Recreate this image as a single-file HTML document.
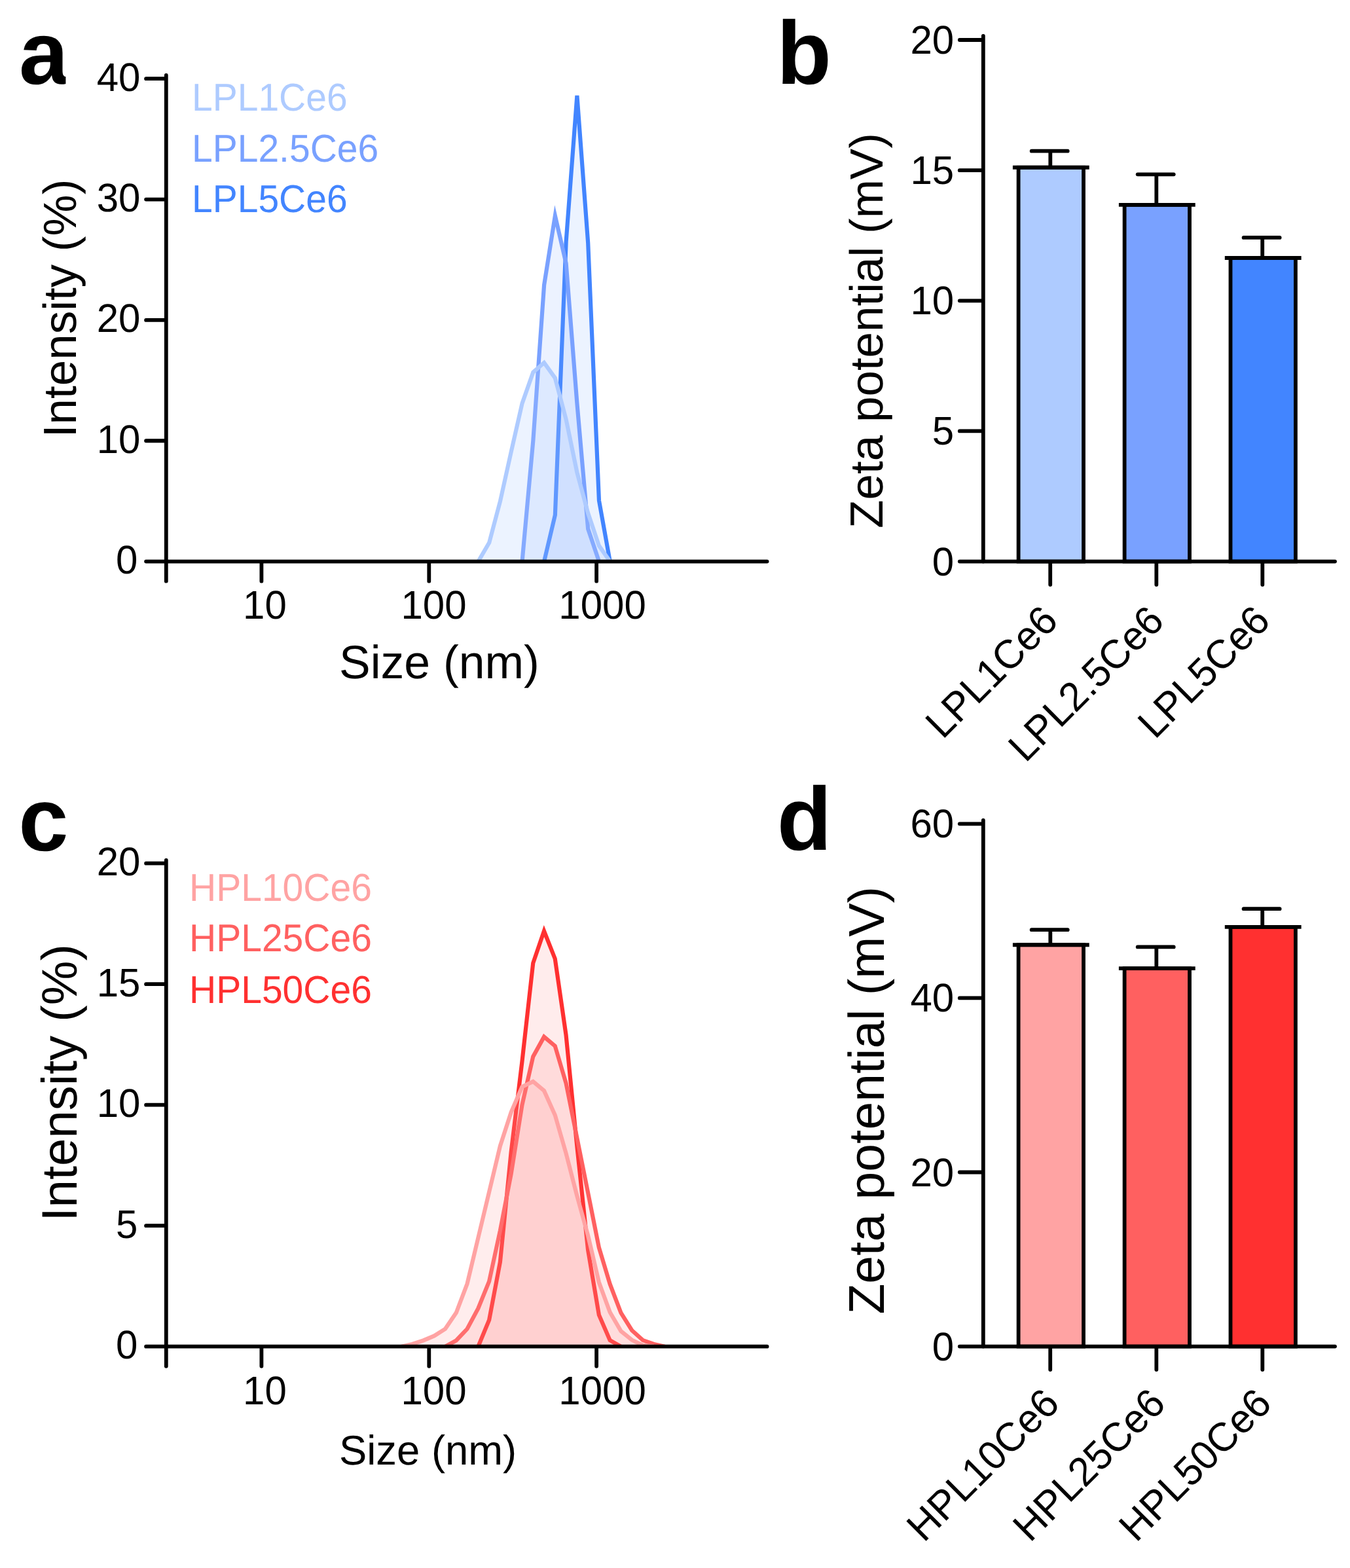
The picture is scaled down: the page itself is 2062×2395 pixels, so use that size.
<!DOCTYPE html>
<html lang="en">
<head>
<meta charset="utf-8">
<title>Size distribution and zeta potential of LPL-Ce6 and HPL-Ce6 nanoparticles</title>
<style>
html, body { margin: 0; padding: 0; background: #ffffff; }
body { width: 2062px; height: 2395px; overflow: hidden; }
svg { display: block; }
text { font-family: "Liberation Sans", sans-serif; font-kerning: none; text-rendering: geometricPrecision; }
</style>
</head>
<body>
<svg width="2062" height="2395" viewBox="0 0 2062 2395" font-family='"Liberation Sans", sans-serif' role="img" aria-label="Size distributions and zeta potentials of LPL-Ce6 and HPL-Ce6 formulations">
<rect x="0" y="0" width="2062" height="2395" fill="#ffffff"/>
<g id="panel-a">
<clipPath id="clip-a"><rect x="200" y="-42.40" width="1100" height="901.50"/></clipPath>
<g clip-path="url(#clip-a)">
<polygon points="831.09,857.60 847.86,786.63 864.63,369.07 881.40,146.01 898.17,370.92 914.94,764.50 931.71,857.60" fill="#4285FF" fill-opacity="0.1" stroke="none"/>
<polyline points="831.09,857.60 847.86,786.63 864.63,369.07 881.40,146.01 898.17,370.92 914.94,764.50 931.71,857.60" fill="none" stroke="#4285FF" stroke-width="6.2" stroke-linejoin="miter" stroke-miterlimit="10" stroke-linecap="butt"/>
<polygon points="797.55,857.60 814.32,673.25 831.09,435.44 847.86,329.44 864.63,402.26 881.40,616.10 898.17,807.83 914.94,857.60" fill="#79A1FF" fill-opacity="0.14" stroke="none"/>
<polyline points="797.55,857.60 814.32,673.25 831.09,435.44 847.86,329.44 864.63,402.26 881.40,616.10 898.17,807.83 914.94,857.60" fill="none" stroke="#79A1FF" stroke-width="6.2" stroke-linejoin="miter" stroke-miterlimit="10" stroke-linecap="butt"/>
<polygon points="730.47,857.60 747.24,828.84 764.01,765.43 780.78,689.84 797.55,616.10 814.32,568.54 831.09,553.98 847.86,577.39 864.63,640.62 881.40,721.73 898.17,783.86 914.94,833.63 931.71,857.60" fill="#AECBFF" fill-opacity="0.23" stroke="none"/>
<polyline points="730.47,857.60 747.24,828.84 764.01,765.43 780.78,689.84 797.55,616.10 814.32,568.54 831.09,553.98 847.86,577.39 864.63,640.62 881.40,721.73 898.17,783.86 914.94,833.63 931.71,857.60" fill="none" stroke="#AECBFF" stroke-width="6.2" stroke-linejoin="miter" stroke-miterlimit="10" stroke-linecap="butt"/>
</g>
<line x1="253.80" y1="115.00" x2="253.80" y2="887.70" stroke="#000" stroke-width="5.8" stroke-linecap="round"/>
<line x1="223.10" y1="857.60" x2="1171.60" y2="857.60" stroke="#000" stroke-width="5.8" stroke-linecap="round"/>
<text transform="translate(210.40 876.00) scale(1.0 1.02)" font-size="60" text-anchor="end" fill="#000">0</text>
<line x1="223.10" y1="673.25" x2="251.80" y2="673.25" stroke="#000" stroke-width="5.8" stroke-linecap="round"/>
<text transform="translate(214.40 691.65) scale(1.0 1.02)" font-size="60" text-anchor="end" fill="#000">10</text>
<line x1="223.10" y1="488.90" x2="251.80" y2="488.90" stroke="#000" stroke-width="5.8" stroke-linecap="round"/>
<text transform="translate(214.40 507.30) scale(1.0 1.02)" font-size="60" text-anchor="end" fill="#000">20</text>
<line x1="223.10" y1="304.55" x2="251.80" y2="304.55" stroke="#000" stroke-width="5.8" stroke-linecap="round"/>
<text transform="translate(214.40 322.95) scale(1.0 1.02)" font-size="60" text-anchor="end" fill="#000">30</text>
<line x1="223.10" y1="120.20" x2="251.80" y2="120.20" stroke="#000" stroke-width="5.8" stroke-linecap="round"/>
<text transform="translate(214.40 138.60) scale(1.0 1.02)" font-size="60" text-anchor="end" fill="#000">40</text>
<line x1="399.40" y1="859.60" x2="399.40" y2="887.70" stroke="#000" stroke-width="5.8" stroke-linecap="round"/>
<text transform="translate(404.40 945.40) scale(1.0 1.02)" font-size="60" text-anchor="middle" fill="#000">10</text>
<line x1="655.30" y1="859.60" x2="655.30" y2="887.70" stroke="#000" stroke-width="5.8" stroke-linecap="round"/>
<text transform="translate(662.50 945.40) scale(1.0 1.02)" font-size="60" text-anchor="middle" fill="#000">100</text>
<line x1="911.10" y1="859.60" x2="911.10" y2="887.70" stroke="#000" stroke-width="5.8" stroke-linecap="round"/>
<text transform="translate(920.10 945.40) scale(1.0 1.02)" font-size="60" text-anchor="middle" fill="#000">1000</text>
<text transform="translate(115.50 471.00) rotate(-90)" font-size="71" text-anchor="middle" fill="#000">Intensity (%)</text>
<text transform="translate(518.00 1036.00)" font-size="71.5" text-anchor="start" fill="#000">Size (nm)</text>
<text transform="translate(293.00 169.00) scale(1.0 1.04)" font-size="57" text-anchor="start" fill="#AECBFF">LPL1Ce6</text>
<text transform="translate(293.00 246.60) scale(1.0 1.04)" font-size="57" text-anchor="start" fill="#79A1FF">LPL2.5Ce6</text>
<text transform="translate(293.00 323.70) scale(1.0 1.04)" font-size="57" text-anchor="start" fill="#4285FF">LPL5Ce6</text>
<clipPath id="clip-letter-a"><rect x="0" y="0" width="100.4" height="200"/></clipPath>
<g clip-path="url(#clip-letter-a)">
<text transform="translate(29.00 128.00)" font-size="136" text-anchor="start" fill="#000" font-weight="bold">a</text>
</g>
</g>
<g id="panel-b">
<rect x="1555.60" y="255.77" width="99.40" height="601.83" fill="#AECBFF" stroke="#000" stroke-width="5.8"/>
<line x1="1604.30" y1="230.68" x2="1604.30" y2="255.77" stroke="#000" stroke-width="5.8" stroke-linecap="butt"/>
<line x1="1575.70" y1="230.68" x2="1630.70" y2="230.68" stroke="#000" stroke-width="5.8" stroke-linecap="round"/>
<line x1="1546.90" y1="255.77" x2="1663.70" y2="255.77" stroke="#000" stroke-width="5.8" stroke-linecap="butt"/>
<rect x="1717.60" y="312.92" width="99.40" height="544.68" fill="#79A1FF" stroke="#000" stroke-width="5.8"/>
<line x1="1766.30" y1="266.32" x2="1766.30" y2="312.92" stroke="#000" stroke-width="5.8" stroke-linecap="butt"/>
<line x1="1737.70" y1="266.32" x2="1792.70" y2="266.32" stroke="#000" stroke-width="5.8" stroke-linecap="round"/>
<line x1="1708.90" y1="312.92" x2="1825.70" y2="312.92" stroke="#000" stroke-width="5.8" stroke-linecap="butt"/>
<rect x="1879.50" y="393.98" width="99.40" height="463.62" fill="#4285FF" stroke="#000" stroke-width="5.8"/>
<line x1="1928.20" y1="362.91" x2="1928.20" y2="393.98" stroke="#000" stroke-width="5.8" stroke-linecap="butt"/>
<line x1="1899.60" y1="362.91" x2="1954.60" y2="362.91" stroke="#000" stroke-width="5.8" stroke-linecap="round"/>
<line x1="1870.80" y1="393.98" x2="1987.60" y2="393.98" stroke="#000" stroke-width="5.8" stroke-linecap="butt"/>
<line x1="1501.80" y1="54.80" x2="1501.80" y2="857.60" stroke="#000" stroke-width="5.8" stroke-linecap="round"/>
<line x1="1465.80" y1="857.60" x2="2039.00" y2="857.60" stroke="#000" stroke-width="5.8" stroke-linecap="round"/>
<text transform="translate(1457.20 878.60) scale(1.0 1.02)" font-size="60" text-anchor="end" fill="#000">0</text>
<line x1="1465.80" y1="658.45" x2="1499.80" y2="658.45" stroke="#000" stroke-width="5.8" stroke-linecap="round"/>
<text transform="translate(1457.20 679.45) scale(1.0 1.02)" font-size="60" text-anchor="end" fill="#000">5</text>
<line x1="1465.80" y1="459.30" x2="1499.80" y2="459.30" stroke="#000" stroke-width="5.8" stroke-linecap="round"/>
<text transform="translate(1457.20 480.30) scale(1.0 1.02)" font-size="60" text-anchor="end" fill="#000">10</text>
<line x1="1465.80" y1="260.15" x2="1499.80" y2="260.15" stroke="#000" stroke-width="5.8" stroke-linecap="round"/>
<text transform="translate(1457.20 281.15) scale(1.0 1.02)" font-size="60" text-anchor="end" fill="#000">15</text>
<line x1="1465.80" y1="61.00" x2="1499.80" y2="61.00" stroke="#000" stroke-width="5.8" stroke-linecap="round"/>
<text transform="translate(1457.20 82.00) scale(1.0 1.02)" font-size="60" text-anchor="end" fill="#000">20</text>
<line x1="1604.20" y1="859.60" x2="1604.20" y2="893.10" stroke="#000" stroke-width="5.8" stroke-linecap="round"/>
<text transform="translate(1618.80 951.50) rotate(-45) scale(1.0 1.02)" font-size="60.7" text-anchor="end" fill="#000">LPL1Ce6</text>
<line x1="1766.30" y1="859.60" x2="1766.30" y2="893.10" stroke="#000" stroke-width="5.8" stroke-linecap="round"/>
<text transform="translate(1780.90 951.50) rotate(-45) scale(1.0 1.02)" font-size="60.7" text-anchor="end" fill="#000">LPL2.5Ce6</text>
<line x1="1928.30" y1="859.60" x2="1928.30" y2="893.10" stroke="#000" stroke-width="5.8" stroke-linecap="round"/>
<text transform="translate(1942.90 951.50) rotate(-45) scale(1.0 1.02)" font-size="60.7" text-anchor="end" fill="#000">LPL5Ce6</text>
<text transform="translate(1348.20 505.00) rotate(-90)" font-size="71" text-anchor="middle" fill="#000">Zeta potential (mV)</text>
<text transform="translate(1186.30 128.00)" font-size="137" text-anchor="start" fill="#000" font-weight="bold">b</text>
</g>
<g id="panel-c">
<clipPath id="clip-c"><rect x="200" y="1156.70" width="1100" height="901.50"/></clipPath>
<g clip-path="url(#clip-c)">
<polygon points="730.37,2056.70 747.14,2016.11 763.91,1927.55 780.68,1759.65 797.45,1621.28 814.22,1471.10 830.99,1422.02 847.76,1464.45 864.53,1580.69 881.30,1750.43 898.07,1909.10 914.84,2008.36 931.61,2047.11 948.38,2056.70" fill="#FF3030" fill-opacity="0.09" stroke="none"/>
<polyline points="730.37,2056.70 747.14,2016.11 763.91,1927.55 780.68,1759.65 797.45,1621.28 814.22,1471.10 830.99,1422.02 847.76,1464.45 864.53,1580.69 881.30,1750.43 898.07,1909.10 914.84,2008.36 931.61,2047.11 948.38,2056.70" fill="none" stroke="#FF3030" stroke-width="6.2" stroke-linejoin="miter" stroke-miterlimit="10" stroke-linecap="butt"/>
<polygon points="680.06,2056.70 696.83,2047.47 713.60,2029.76 730.37,1998.40 747.14,1957.07 763.91,1879.58 780.68,1792.86 797.45,1687.70 814.22,1613.90 830.99,1583.64 847.76,1597.66 864.53,1654.49 881.30,1737.88 898.07,1821.65 914.84,1905.41 931.61,1961.13 948.38,2005.04 965.15,2031.98 981.92,2047.11 998.69,2053.01 1015.46,2056.70" fill="#FF6060" fill-opacity="0.117" stroke="none"/>
<polyline points="680.06,2056.70 696.83,2047.47 713.60,2029.76 730.37,1998.40 747.14,1957.07 763.91,1879.58 780.68,1792.86 797.45,1687.70 814.22,1613.90 830.99,1583.64 847.76,1597.66 864.53,1654.49 881.30,1737.88 898.07,1821.65 914.84,1905.41 931.61,1961.13 948.38,2005.04 965.15,2031.98 981.92,2047.11 998.69,2053.01 1015.46,2056.70" fill="none" stroke="#FF6060" stroke-width="6.2" stroke-linejoin="miter" stroke-miterlimit="10" stroke-linecap="butt"/>
<polygon points="612.98,2056.70 629.75,2053.01 646.52,2047.47 663.29,2040.46 680.06,2029.76 696.83,2005.04 713.60,1960.76 730.37,1890.65 747.14,1820.54 763.91,1750.43 780.68,1698.77 797.45,1660.02 814.22,1651.91 830.99,1665.93 847.76,1703.20 864.53,1761.50 881.30,1826.44 898.07,1886.96 914.84,1958.55 931.61,2004.30 948.38,2033.08 965.15,2046.74 981.92,2054.86 998.69,2056.70" fill="#FFA3A3" fill-opacity="0.2" stroke="none"/>
<polyline points="612.98,2056.70 629.75,2053.01 646.52,2047.47 663.29,2040.46 680.06,2029.76 696.83,2005.04 713.60,1960.76 730.37,1890.65 747.14,1820.54 763.91,1750.43 780.68,1698.77 797.45,1660.02 814.22,1651.91 830.99,1665.93 847.76,1703.20 864.53,1761.50 881.30,1826.44 898.07,1886.96 914.84,1958.55 931.61,2004.30 948.38,2033.08 965.15,2046.74 981.92,2054.86 998.69,2056.70" fill="none" stroke="#FFA3A3" stroke-width="6.2" stroke-linejoin="miter" stroke-miterlimit="10" stroke-linecap="butt"/>
</g>
<line x1="253.80" y1="1314.00" x2="253.80" y2="2086.80" stroke="#000" stroke-width="5.8" stroke-linecap="round"/>
<line x1="223.10" y1="2056.70" x2="1171.60" y2="2056.70" stroke="#000" stroke-width="5.8" stroke-linecap="round"/>
<text transform="translate(210.40 2075.10) scale(1.0 1.02)" font-size="60" text-anchor="end" fill="#000">0</text>
<line x1="223.10" y1="1872.20" x2="251.80" y2="1872.20" stroke="#000" stroke-width="5.8" stroke-linecap="round"/>
<text transform="translate(210.40 1890.60) scale(1.0 1.02)" font-size="60" text-anchor="end" fill="#000">5</text>
<line x1="223.10" y1="1687.70" x2="251.80" y2="1687.70" stroke="#000" stroke-width="5.8" stroke-linecap="round"/>
<text transform="translate(214.40 1706.10) scale(1.0 1.02)" font-size="60" text-anchor="end" fill="#000">10</text>
<line x1="223.10" y1="1503.20" x2="251.80" y2="1503.20" stroke="#000" stroke-width="5.8" stroke-linecap="round"/>
<text transform="translate(214.40 1521.60) scale(1.0 1.02)" font-size="60" text-anchor="end" fill="#000">15</text>
<line x1="223.10" y1="1318.70" x2="251.80" y2="1318.70" stroke="#000" stroke-width="5.8" stroke-linecap="round"/>
<text transform="translate(214.40 1337.10) scale(1.0 1.02)" font-size="60" text-anchor="end" fill="#000">20</text>
<line x1="399.40" y1="2058.70" x2="399.40" y2="2086.80" stroke="#000" stroke-width="5.8" stroke-linecap="round"/>
<text transform="translate(404.40 2144.50) scale(1.0 1.02)" font-size="60" text-anchor="middle" fill="#000">10</text>
<line x1="655.30" y1="2058.70" x2="655.30" y2="2086.80" stroke="#000" stroke-width="5.8" stroke-linecap="round"/>
<text transform="translate(662.50 2144.50) scale(1.0 1.02)" font-size="60" text-anchor="middle" fill="#000">100</text>
<line x1="911.10" y1="2058.70" x2="911.10" y2="2086.80" stroke="#000" stroke-width="5.8" stroke-linecap="round"/>
<text transform="translate(920.10 2144.50) scale(1.0 1.02)" font-size="60" text-anchor="middle" fill="#000">1000</text>
<text transform="translate(117.20 1653.90) rotate(-90)" font-size="76.2" text-anchor="middle" fill="#000">Intensity (%)</text>
<text transform="translate(518.00 2236.50)" font-size="63.4" text-anchor="start" fill="#000">Size (nm)</text>
<text transform="translate(289.00 1375.90) scale(1.0 1.04)" font-size="57" text-anchor="start" fill="#FFA3A3">HPL10Ce6</text>
<text transform="translate(289.00 1453.30) scale(1.0 1.04)" font-size="57" text-anchor="start" fill="#FF6060">HPL25Ce6</text>
<text transform="translate(289.00 1531.70) scale(1.0 1.04)" font-size="57" text-anchor="start" fill="#FF3030">HPL50Ce6</text>
<text transform="translate(28.30 1298.50)" font-size="137" text-anchor="start" fill="#000" font-weight="bold">c</text>
</g>
<g id="panel-d">
<rect x="1555.60" y="1443.24" width="99.40" height="613.36" fill="#FFA3A3" stroke="#000" stroke-width="5.8"/>
<line x1="1604.30" y1="1420.22" x2="1604.30" y2="1443.24" stroke="#000" stroke-width="5.8" stroke-linecap="butt"/>
<line x1="1575.70" y1="1420.22" x2="1630.70" y2="1420.22" stroke="#000" stroke-width="5.8" stroke-linecap="round"/>
<line x1="1546.90" y1="1443.24" x2="1663.70" y2="1443.24" stroke="#000" stroke-width="5.8" stroke-linecap="butt"/>
<rect x="1717.60" y="1479.16" width="99.40" height="577.44" fill="#FF6060" stroke="#000" stroke-width="5.8"/>
<line x1="1766.30" y1="1446.43" x2="1766.30" y2="1479.16" stroke="#000" stroke-width="5.8" stroke-linecap="butt"/>
<line x1="1737.70" y1="1446.43" x2="1792.70" y2="1446.43" stroke="#000" stroke-width="5.8" stroke-linecap="round"/>
<line x1="1708.90" y1="1479.16" x2="1825.70" y2="1479.16" stroke="#000" stroke-width="5.8" stroke-linecap="butt"/>
<rect x="1879.50" y="1415.96" width="99.40" height="640.64" fill="#FF3030" stroke="#000" stroke-width="5.8"/>
<line x1="1928.20" y1="1388.16" x2="1928.20" y2="1415.96" stroke="#000" stroke-width="5.8" stroke-linecap="butt"/>
<line x1="1899.60" y1="1388.16" x2="1954.60" y2="1388.16" stroke="#000" stroke-width="5.8" stroke-linecap="round"/>
<line x1="1870.80" y1="1415.96" x2="1987.60" y2="1415.96" stroke="#000" stroke-width="5.8" stroke-linecap="butt"/>
<line x1="1501.80" y1="1253.00" x2="1501.80" y2="2056.60" stroke="#000" stroke-width="5.8" stroke-linecap="round"/>
<line x1="1465.80" y1="2056.60" x2="2039.00" y2="2056.60" stroke="#000" stroke-width="5.8" stroke-linecap="round"/>
<text transform="translate(1457.20 2077.60) scale(1.0 1.02)" font-size="60" text-anchor="end" fill="#000">0</text>
<line x1="1465.80" y1="1790.50" x2="1499.80" y2="1790.50" stroke="#000" stroke-width="5.8" stroke-linecap="round"/>
<text transform="translate(1457.20 1811.50) scale(1.0 1.02)" font-size="60" text-anchor="end" fill="#000">20</text>
<line x1="1465.80" y1="1524.40" x2="1499.80" y2="1524.40" stroke="#000" stroke-width="5.8" stroke-linecap="round"/>
<text transform="translate(1457.20 1545.40) scale(1.0 1.02)" font-size="60" text-anchor="end" fill="#000">40</text>
<line x1="1465.80" y1="1258.30" x2="1499.80" y2="1258.30" stroke="#000" stroke-width="5.8" stroke-linecap="round"/>
<text transform="translate(1457.20 1279.30) scale(1.0 1.02)" font-size="60" text-anchor="end" fill="#000">60</text>
<line x1="1604.20" y1="2058.60" x2="1604.20" y2="2092.10" stroke="#000" stroke-width="5.8" stroke-linecap="round"/>
<text transform="translate(1621.00 2147.20) rotate(-45) scale(1.0 1.02)" font-size="60.7" text-anchor="end" fill="#000">HPL10Ce6</text>
<line x1="1766.30" y1="2058.60" x2="1766.30" y2="2092.10" stroke="#000" stroke-width="5.8" stroke-linecap="round"/>
<text transform="translate(1783.10 2147.20) rotate(-45) scale(1.0 1.02)" font-size="60.7" text-anchor="end" fill="#000">HPL25Ce6</text>
<line x1="1928.30" y1="2058.60" x2="1928.30" y2="2092.10" stroke="#000" stroke-width="5.8" stroke-linecap="round"/>
<text transform="translate(1945.10 2147.20) rotate(-45) scale(1.0 1.02)" font-size="60.7" text-anchor="end" fill="#000">HPL50Ce6</text>
<text transform="translate(1350.00 1680.70) rotate(-90)" font-size="76.9" text-anchor="middle" fill="#000">Zeta potential (mV)</text>
<text transform="translate(1186.70 1297.80)" font-size="137" text-anchor="start" fill="#000" font-weight="bold">d</text>
</g>
</svg>
</body>
</html>
